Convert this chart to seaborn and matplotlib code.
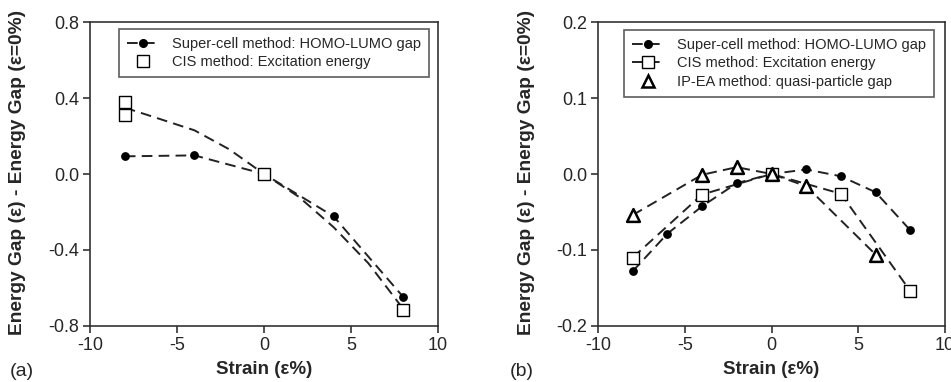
import numpy as np
import pandas as pd
import seaborn as sns
import matplotlib.pyplot as plt
from matplotlib.lines import Line2D

# Panel (a) data
a_sc_x = [-8, -4, 0, 4, 8]
a_sc_y = [0.093, 0.098, 0.0, -0.223, -0.647]
a_cis_x = [-8, -8, 0, 8]
a_cis_y = [0.379, 0.309, 0.0, -0.714]
# dashed guide through the CIS points
a_cisfit_x = [-8, -6, -4, -2, 0, 2, 4, 6, 8]
a_cisfit_y = [0.349, 0.29, 0.23, 0.13, 0.0, -0.12, -0.28, -0.47, -0.71]

# Panel (b) data
b_sc_x = [-8, -6, -4, -2, 0, 2, 4, 6, 8]
b_sc_y = [-0.128, -0.0785, -0.0425, -0.012, 0.0, 0.006, -0.003, -0.024, -0.074]
b_cis_x = [-8, -4, 0, 4, 8]
b_cis_y = [-0.110, -0.027, 0.0, -0.026, -0.154]
b_ip_x = [-8, -4, -2, 0, 2, 6]
b_ip_y = [-0.054, -0.001, 0.009, 0.0, -0.016, -0.106]

lab_sc = "Super-cell method: HOMO-LUMO gap"
lab_cis = "CIS method: Excitation energy"
lab_ip = "IP-EA method: quasi-particle gap"

sns.set_style("white")
plt.rcParams['font.family'] = ['Liberation Sans', 'DejaVu Sans']
plt.rcParams['axes.unicode_minus'] = False

fig = plt.figure(figsize=(9.51, 3.82), dpi=100)
ax_a = fig.add_axes([90/951, 56/382, 348/951, 304/382])
ax_b = fig.add_axes([598/951, 56/382, 347/951, 304/382])

dash = (0, (5.5, 3.2))
lc = "#222222"


def line(ax, x, y):
    d = pd.DataFrame({"x": x, "y": y})
    sns.lineplot(data=d, x="x", y="y", ax=ax, color=lc, lw=1.4, linestyle=dash,
                 sort=False, estimator=None)


def pts(ax, x, y, marker, size, face, lw=1.0):
    d = pd.DataFrame({"x": x, "y": y})
    sns.scatterplot(data=d, x="x", y="y", ax=ax, marker=marker, s=size,
                    facecolor=face, edgecolor="black", linewidth=lw, zorder=5)


# (a)
line(ax_a, a_sc_x, a_sc_y)
line(ax_a, a_cisfit_x, a_cisfit_y)
pts(ax_a, a_sc_x, a_sc_y, "o", 28, "black")
pts(ax_a, a_cis_x, a_cis_y, "s", 70, "white")

# (b)
line(ax_b, b_sc_x, b_sc_y)
line(ax_b, b_cis_x, b_cis_y)
line(ax_b, b_ip_x, b_ip_y)
pts(ax_b, b_sc_x, b_sc_y, "o", 28, "black")
pts(ax_b, b_cis_x, b_cis_y, "s", 70, "white")
pts(ax_b, b_ip_x, b_ip_y, "^", 85, "white", lw=1.8)

ax_a.set_ylim(-0.8, 0.8)
ax_a.set_yticks([-0.8, -0.4, 0.0, 0.4, 0.8])
ax_b.set_ylim(-0.2, 0.2)
ax_b.set_yticks([-0.2, -0.1, 0.0, 0.1, 0.2])

for ax in (ax_a, ax_b):
    ax.set_xlim(-10, 10)
    ax.set_xticks([-10, -5, 0, 5, 10])
    ax.yaxis.set_major_formatter(plt.FormatStrFormatter('%.1f'))
    ax.tick_params(axis='both', direction='out', length=5, width=1.2, color='#333333',
                   labelsize=13, left=True, bottom=True, pad=3)
    for s in ax.spines.values():
        s.set_color('#333333')
        s.set_linewidth(1.2)
    ax.set_xlabel("Strain (ε%)", fontsize=13.5, fontweight='bold')
    ax.set_ylabel("Energy Gap (ε) - Energy Gap (ε=0%)", fontsize=13.8, fontweight='bold')
    ax.xaxis.set_label_coords(0.5, -0.115)
    ax.grid(False)

ax_a.yaxis.set_label_coords(-0.184, 0.505)
ax_b.yaxis.set_label_coords(-0.182, 0.505)

h_sc = Line2D([], [], color=lc, lw=1.4, linestyle=dash, marker='o', ms=5.5,
              mfc='black', mec='black')
h_cis_a = Line2D([], [], color='none', marker='s', ms=8, mfc='white', mec='black', mew=1.0)
h_cis_b = Line2D([], [], color=lc, lw=1.4, linestyle=dash, marker='s', ms=8,
                 mfc='white', mec='black', mew=1.0)
h_ip = Line2D([], [], color='none', marker='^', ms=9, mfc='white', mec='black', mew=1.8)

leg_kw = dict(fontsize=10.5, frameon=True, fancybox=False, edgecolor='#333333',
              handlelength=2.2, borderpad=0.55, labelspacing=0.3, handletextpad=0.9,
              borderaxespad=0)
la = ax_a.legend([h_sc, h_cis_a], [lab_sc, lab_cis], loc='upper right',
                 bbox_to_anchor=(0.974, 0.977), **leg_kw)
lb = ax_b.legend([h_sc, h_cis_b, h_ip], [lab_sc, lab_cis, lab_ip], loc='upper right',
                 bbox_to_anchor=(0.968, 0.974), **leg_kw)
for lg in (la, lb):
    lg.get_frame().set_linewidth(1.2)

fig.text(10/951, 1 - 371/382, "(a)", fontsize=14, va='center', ha='left')
fig.text(510/951, 1 - 371/382, "(b)", fontsize=14, va='center', ha='left')

plt.savefig("out.png", dpi=100)
